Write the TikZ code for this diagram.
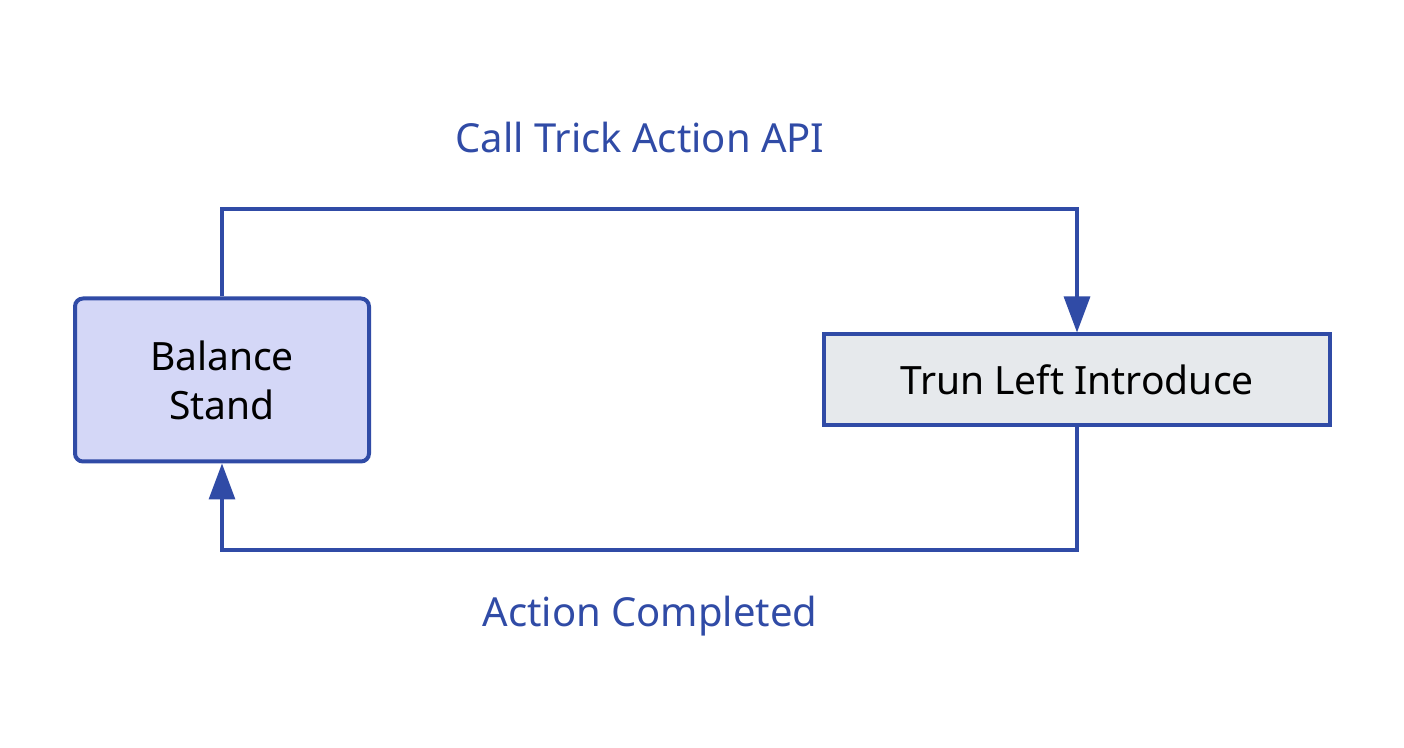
\documentclass[tikz,border=0pt]{standalone}
\usepackage{fontspec}
\setmainfont{Noto Sans}
\usetikzlibrary{arrows.meta}
\definecolor{edgeblue}{HTML}{304BA6}
\definecolor{fillA}{HTML}{D4D7F7}
\definecolor{fillB}{HTML}{E6E9EC}
\tikzset{
  statebox/.style={draw=edgeblue, line width=2pt, align=center, inner sep=0pt,
    font=\fontsize{19.5}{24.5}\selectfont, text=black},
  conn/.style={draw=edgeblue, line width=1.6pt, -{Triangle[length=18pt,width=13pt]}},
  lbl/.style={text=edgeblue, font=\fontsize{20}{24}\selectfont, inner sep=0pt}
}
\begin{document}
\begin{tikzpicture}[x=0.5pt,y=-0.5pt]
\useasboundingbox (0,0) rectangle (1404,748);
\node[statebox, fill=fillA, rounded corners=4pt, minimum width=147pt, minimum height=81.5pt] (bs) at (222,380) {Balance\\Stand};
\node[statebox, fill=fillB, minimum width=253pt, minimum height=45.5pt] (tl) at (1077,380) {Trun Left Introduce};
\coordinate (c1) at (222,209);
\coordinate (c2) at (1077,209);
\coordinate (c3) at (1077,550);
\coordinate (c4) at (222,550);
\draw[conn] (bs.north) -- (c1) -- (c2) -- (tl.north);
\draw[conn] (tl.south) -- (c3) -- (c4) -- (bs.south);
\node[lbl] (l1) at (640,138) {Call Trick Action API};
\node[lbl] (l2) at (650,616) {Action Completed};
\end{tikzpicture}
\end{document}
